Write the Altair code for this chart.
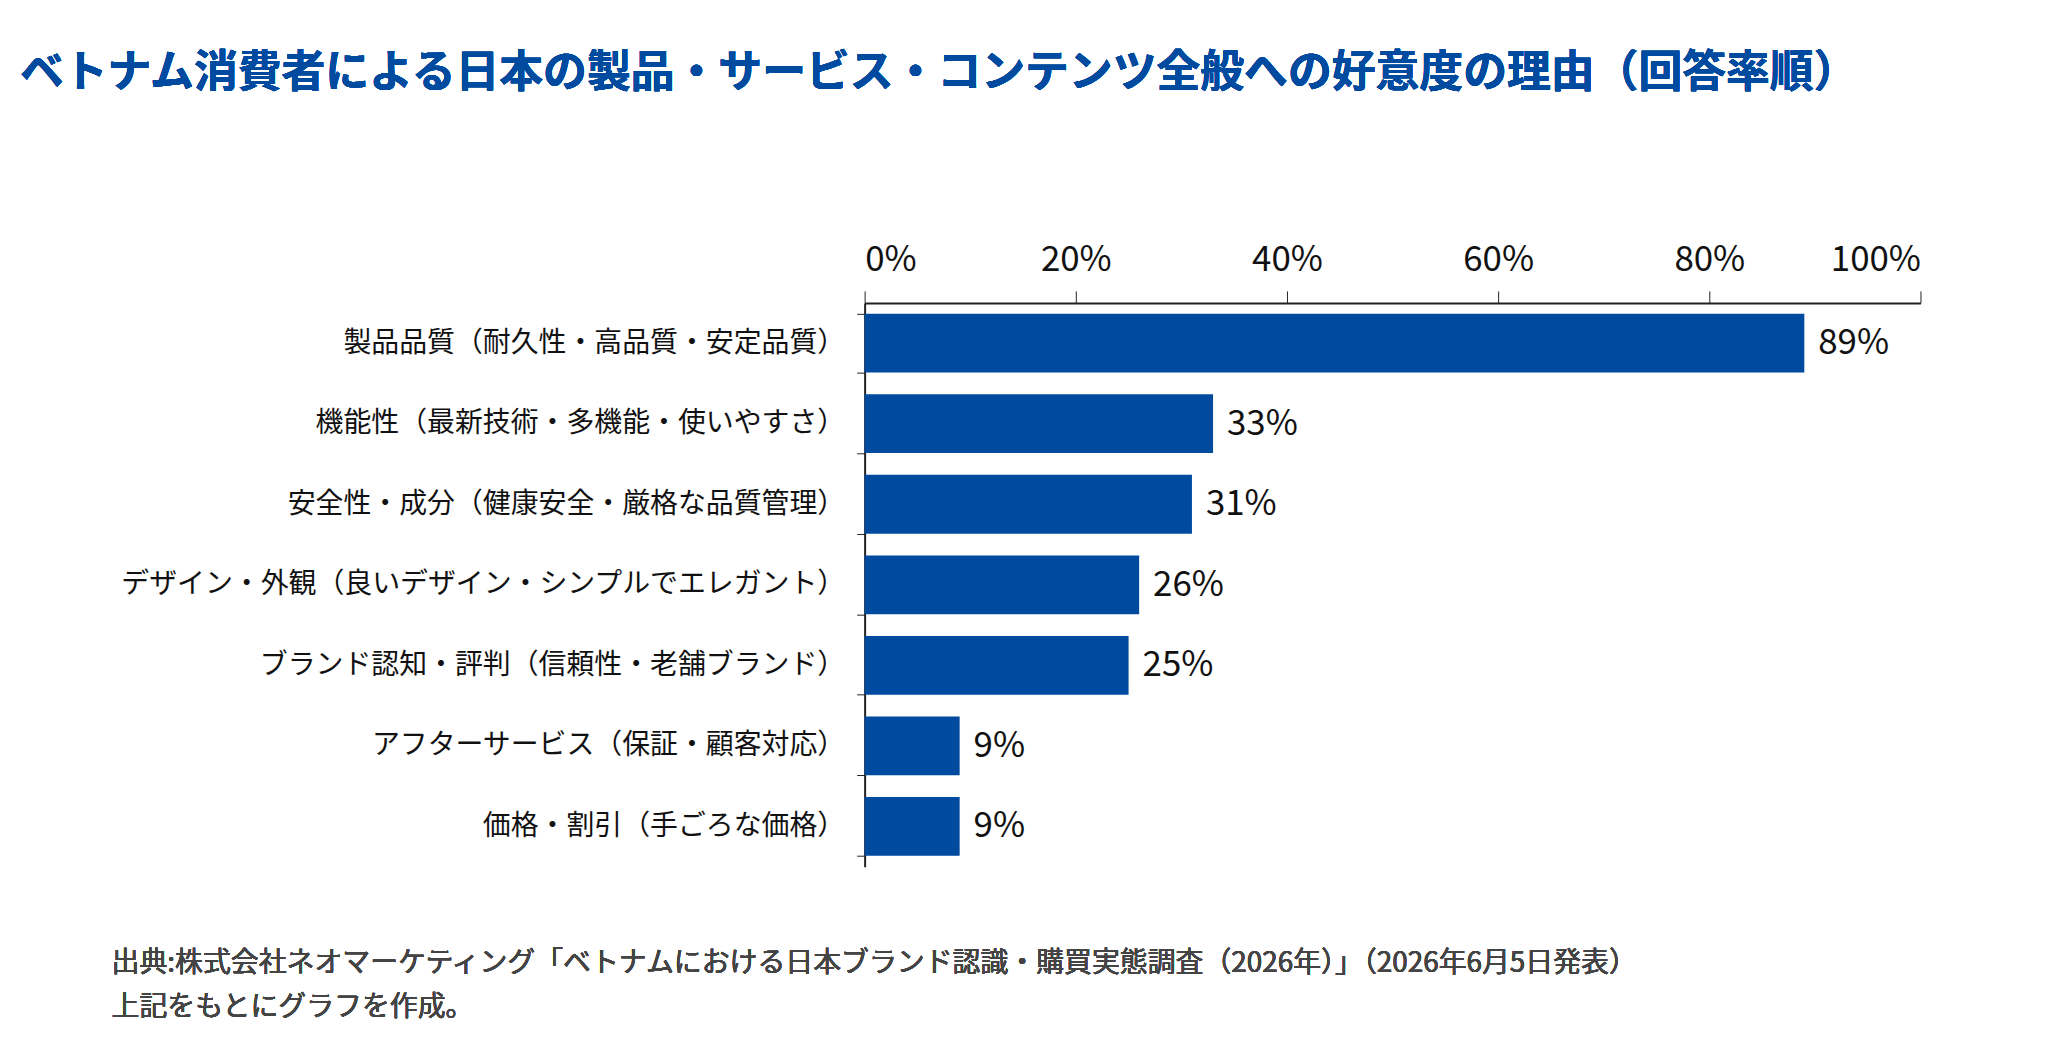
import altair as alt
import pandas as pd

reasons = [
    "製品品質（耐久性・高品質・安定品質）",
    "機能性（最新技術・多機能・使いやすさ）",
    "安全性・成分（健康安全・厳格な品質管理）",
    "デザイン・外観（良いデザイン・シンプルでエレガント）",
    "ブランド認知・評判（信頼性・老舗ブランド）",
    "アフターサービス（保証・顧客対応）",
    "価格・割引（手ごろな価格）",
]
rates = [0.89, 0.33, 0.31, 0.26, 0.25, 0.09, 0.09]

df = pd.DataFrame({"reason": reasons, "rate": rates})
FONT = "Noto Sans CJK JP"
BLUE = "#004a9f"

base = alt.Chart(df).encode(
    y=alt.Y("reason:N", sort=reasons, title=None,
            scale=alt.Scale(paddingInner=0.27, paddingOuter=0.135),
            axis=alt.Axis(labelFontSize=28, labelFont=FONT, labelColor="#111",
                          labelPadding=12, tickSize=8, tickColor="#222",
                          domainColor="#222", domainWidth=2, labelLimit=900,
                          tickBand="extent")),
)

bars = base.mark_bar(color=BLUE).encode(
    x=alt.X("rate:Q", title=None,
            scale=alt.Scale(domain=[0, 1]),
            axis=alt.Axis(orient="top", format=".0%", values=[0, .2, .4, .6, .8, 1],
                          labelFontSize=35, labelFont=FONT, labelColor="#111",
                          labelPadding=14, tickSize=12, tickColor="#222",
                          domainColor="#222", domainWidth=2, grid=False)),
)

labels = base.mark_text(align="left", dx=14, fontSize=35, font=FONT, color="#111").encode(
    x="rate:Q",
    text=alt.Text("rate:Q", format=".0%"),
)

title = alt.Chart(df).mark_text(
    align="left", baseline="middle", fontSize=44, fontWeight="bold", font=FONT, color=BLUE,
    text="ベトナム消費者による日本の製品・サービス・コンテンツ全般への好意度の理由（回答率順）",
).encode(x=alt.value(-848), y=alt.value(-230))

source1 = alt.Chart(df).mark_text(
    align="left", baseline="middle", fontSize=28, font=FONT, color="#444",
    text="出典:株式会社ネオマーケティング「ベトナムにおける日本ブランド認識・購買実態調査（2026年）」（2026年6月5日発表）",
).encode(x=alt.value(-756), y=alt.value(664))

source2 = alt.Chart(df).mark_text(
    align="left", baseline="middle", fontSize=28, font=FONT, color="#444",
    text="上記をもとにグラフを作成。",
).encode(x=alt.value(-756), y=alt.value(708))

chart = alt.layer(bars, labels, title, source1, source2).properties(
    width=1060, height=566,
    autosize="none",
    padding={"left": 860, "top": 294, "right": 120, "bottom": 180},
).configure_view(stroke=None)

chart.save("out.html", embed_options={"renderer": "svg", "actions": False})
